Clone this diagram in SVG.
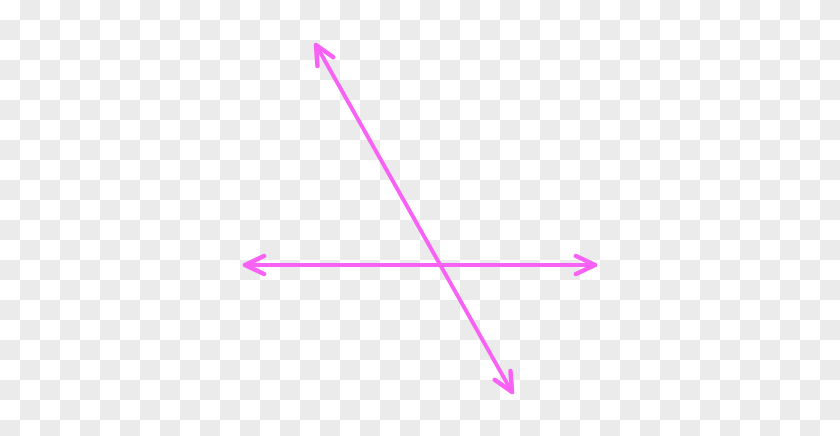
<svg xmlns="http://www.w3.org/2000/svg" width="840" height="436" viewBox="0 0 840 436">
  <defs>
    <pattern id="checker" x="0" y="0" width="40" height="40" patternUnits="userSpaceOnUse">
      <rect x="0" y="0" width="40" height="40" fill="#ffffff"/>
      <rect x="20" y="0" width="20" height="20" fill="#ebebeb"/>
      <rect x="0" y="20" width="20" height="20" fill="#ebebeb"/>
    </pattern>
    <marker id="head" markerUnits="userSpaceOnUse" markerWidth="40" markerHeight="40" refX="0" refY="0" viewBox="-25 -20 40 40" orient="auto-start-reverse" overflow="visible">
      <path d="M -19 -9 L 0 0 L -19 9" fill="none" stroke="#f862f4" stroke-width="4.5" stroke-linecap="round" stroke-linejoin="round"/>
    </marker>
    <style>
      .ln { stroke: #f862f4; stroke-width: 4; fill: none; stroke-linecap: round; marker-start: url(#head); marker-end: url(#head); }
    </style>
  </defs>
  <rect x="0" y="0" width="840" height="436" fill="url(#checker)"/>
  <g id="connectors">
    <line id="horizontal" class="ln" x1="245" y1="265" x2="595" y2="265"/>
    <line id="diagonal" class="ln" x1="316" y1="45" x2="512" y2="392"/>
  </g>
</svg>
